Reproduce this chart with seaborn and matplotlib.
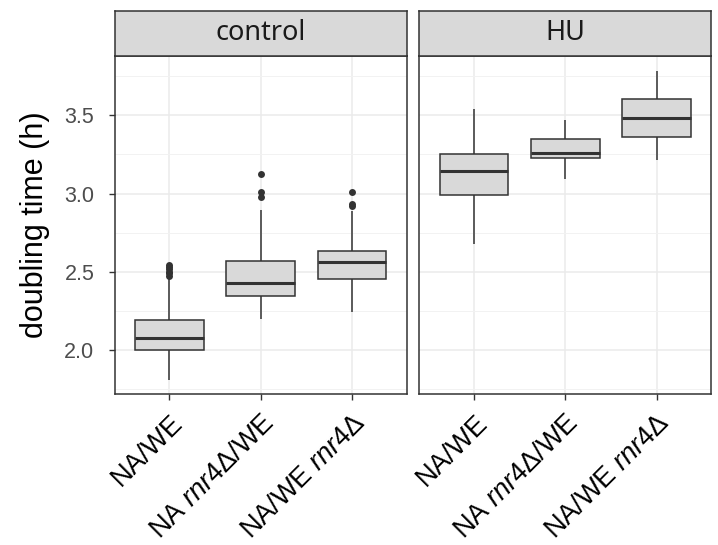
import pandas as pd
import matplotlib.pyplot as plt
import seaborn as sns
from matplotlib.ticker import MultipleLocator

sns.set_style("white")
plt.rcParams['font.family'] = ['Liberation Sans', 'DejaVu Sans']
plt.rcParams['mathtext.fontset'] = 'custom'
plt.rcParams['mathtext.rm'] = 'Liberation Sans'
plt.rcParams['mathtext.it'] = 'Liberation Sans:italic'

conditions = ["control", "HU"]
strains = ["NA/WE", "NA rnr4Δ/WE", "NA/WE rnr4Δ"]
tick_labels = ["NA/WE", r"NA $\mathit{rnr4Δ}$/WE", r"NA/WE $\mathit{rnr4Δ}$"]

# box summaries (whisker low, q1, median, q3, whisker high)
control_lo = [1.81, 2.196, 2.243]
control_q1 = [2.004, 2.347, 2.455]
control_med = [2.08, 2.428, 2.56]
control_q3 = [2.19, 2.568, 2.63]
control_hi = [2.465, 2.893, 2.887]

hu_lo = [2.676, 3.095, 3.216]
hu_q1 = [2.992, 3.227, 3.361]
hu_med = [3.142, 3.259, 3.48]
hu_q3 = [3.253, 3.346, 3.606]
hu_hi = [3.54, 3.472, 3.78]

# outlying points (control only)
out_strain = ["NA/WE"] * 6 + ["NA rnr4Δ/WE"] * 3 + ["NA/WE rnr4Δ"] * 3
out_values = [2.475, 2.49, 2.50, 2.515, 2.53, 2.545,
              2.978, 3.01, 3.127,
              2.92, 2.935, 3.01]

summaries = {
    "control": [control_lo, control_q1, control_med, control_q3, control_hi],
    "HU": [hu_lo, hu_q1, hu_med, hu_q3, hu_hi],
}

# five points per box -> quantiles land exactly on q1 / median / q3
rows = []
for cond, stats in summaries.items():
    for i, s in enumerate(strains):
        for arr in stats:
            rows.append({"condition": cond, "strain": s, "time": arr[i]})
df = pd.DataFrame(rows)
outliers = pd.DataFrame({"strain": out_strain, "time": out_values})

fig = plt.figure(figsize=(7.18, 5.45), dpi=100)
W, H = 718, 545
panels = [(114.5, 407.0), (419.3, 711.5)]
top, bottom, strip_top = 56, 394, 10.7
edge = "#333333"

for k, cond in enumerate(conditions):
    x0, x1 = panels[k]
    ax = fig.add_axes([x0 / W, 1 - bottom / H, (x1 - x0) / W, (bottom - top) / H])
    sub = df[df["condition"] == cond]
    sns.boxplot(data=sub, x="strain", y="time", order=strains, whis=(0, 100),
                width=0.75, color="#d9d9d9", saturation=1, linecolor=edge,
                linewidth=1.1, showcaps=False, showfliers=False,
                medianprops=dict(linewidth=2.2, color=edge), ax=ax, zorder=3)
    if cond == "control":
        sns.stripplot(data=outliers, x="strain", y="time", order=strains,
                      jitter=False, color=edge, size=5, linewidth=0, ax=ax, zorder=4)
    ax.set_xlim(-0.6, 2.6)
    ax.set_ylim(1.72, 3.878)
    ax.yaxis.set_major_locator(MultipleLocator(0.5))
    ax.yaxis.set_minor_locator(MultipleLocator(0.25))
    ax.grid(True, which="major", color="#ebebeb", linewidth=1.1, zorder=0)
    ax.grid(True, which="minor", axis="y", color="#f2f2f2", linewidth=0.7, zorder=0)
    ax.set_axisbelow(True)
    for sp in ax.spines.values():
        sp.set_color(edge)
        sp.set_linewidth(1.1)
        sp.set_visible(True)
    ax.set_xlabel("")
    ax.set_xticks(range(len(strains)))
    ax.set_xticklabels(tick_labels, rotation=45, ha="right", rotation_mode="anchor",
                       fontsize=19.5, color="black")
    ax.tick_params(axis="both", which="major", length=4.5, width=1.0, color=edge,
                   direction="out", bottom=True, left=(k == 0))
    ax.tick_params(axis="y", which="minor", length=0)
    ax.tick_params(axis="y", labelsize=15.5, labelcolor="#4d4d4d", pad=10)
    ax.tick_params(axis="x", pad=7)
    if k == 0:
        ax.set_ylabel("doubling time (h)", fontsize=22, color="black", labelpad=10)
    else:
        ax.set_ylabel("")
        ax.tick_params(axis="y", labelleft=False)

    # facet strip
    sax = fig.add_axes([x0 / W, 1 - top / H, (x1 - x0) / W, (top - strip_top) / H])
    sax.set_facecolor("#d9d9d9")
    sax.set_xticks([])
    sax.set_yticks([])
    for sp in sax.spines.values():
        sp.set_color(edge)
        sp.set_linewidth(1.1)
        sp.set_visible(True)
    sax.text(0.5, 0.5, cond, ha="center", va="center", fontsize=19.5,
             family=["Noto Sans", "DejaVu Sans"], color="#1a1a1a",
             transform=sax.transAxes)

fig.savefig("out.png", dpi=100)
